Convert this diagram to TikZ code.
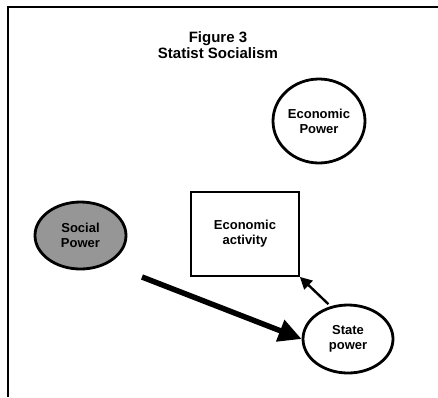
\documentclass[tikz,border=0pt]{standalone}
\usepackage{fontspec}
\setmainfont{Liberation Sans}
\usetikzlibrary{shapes.geometric,arrows.meta}
\begin{document}
\begin{tikzpicture}[x=1pt,y=-1pt,
  lbl/.style={font=\bfseries\fontsize{13}{15}\selectfont,align=center},
  oval/.style={ellipse,draw,line width=2.8pt,inner sep=0pt,lbl},
  box/.style={rectangle,draw,line width=1.8pt,inner sep=0pt,lbl},
  heavy/.style={line width=5.5pt,-{Triangle[length=23pt,width=22pt]}},
  light/.style={line width=2.4pt,-{Triangle[length=12pt,width=12pt]}}]
  \useasboundingbox (0,0) rectangle (438,397);
  % frame: only the top and left edges are inside the page
  \draw[line width=2.8pt] (8,397) -- (8,7) -- (438,7);
  % title
  \node[font=\bfseries\fontsize{15}{16.5}\selectfont,align=center] (title) at (218,45) {Figure 3\\Statist Socialism};
  % nodes
  \node[oval,minimum width=92pt,minimum height=84pt] (econ) at (319,121) {Economic\\Power};
  \node[oval,fill={rgb,255:red,150;green,150;blue,150},minimum width=91pt,minimum height=67pt] (social) at (80.5,235.5) {Social\\Power};
  \node[box,minimum width=108pt,minimum height=84pt] (act) at (245,234) {Economic\\activity};
  \node[oval,minimum width=90pt,minimum height=68pt] (state) at (348,339) {State\\power};
  % connectors
  \coordinate (flowstart) at (142,277);
  \draw[heavy] (flowstart) -- (state.west);
  \draw[light,shorten <=3pt] (state.118) -- (act.south east);
\end{tikzpicture}
\end{document}
